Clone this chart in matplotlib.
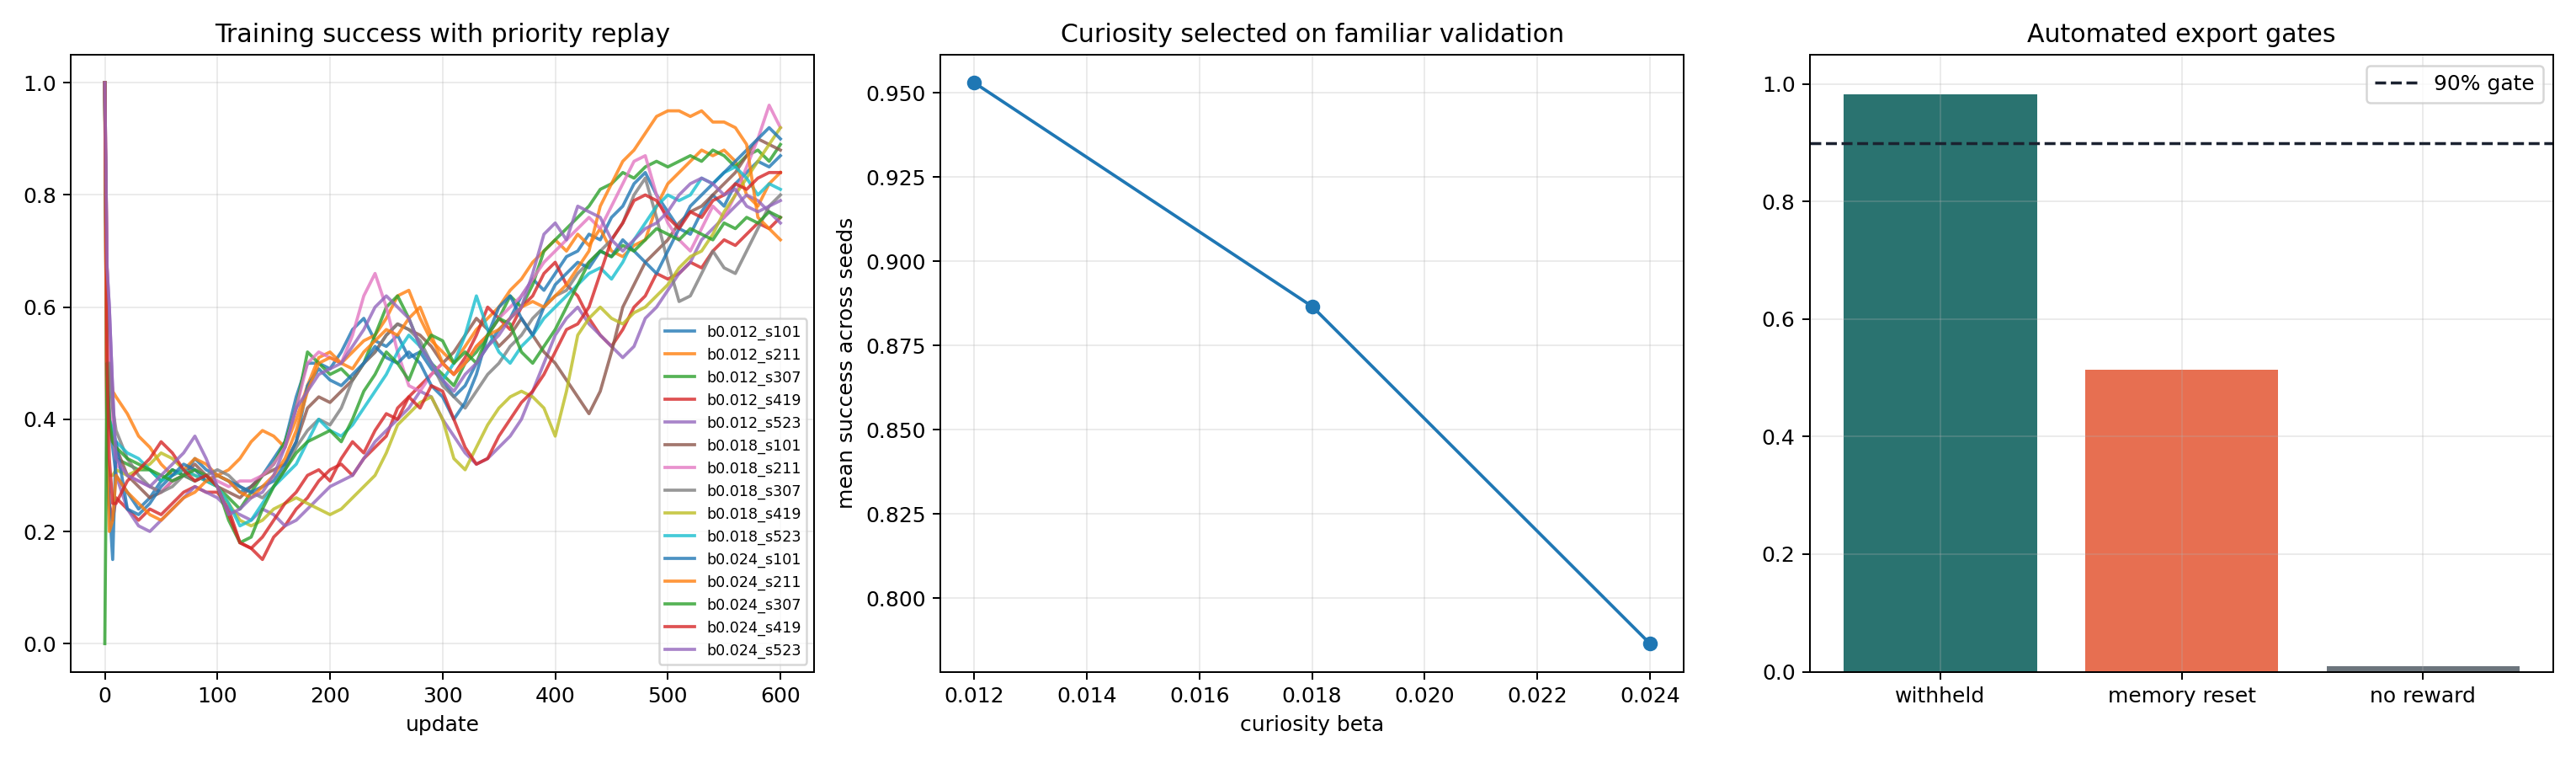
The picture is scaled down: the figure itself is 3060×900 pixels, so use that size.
import numpy as np
import matplotlib
matplotlib.use("Agg")
import matplotlib.pyplot as plt

# panel 1: running success per update (every 10 updates)
updates = [0, 2, 4, 7] + list(range(10, 601, 10))

run_names = ["b0.012_s101", "b0.012_s211", "b0.012_s307", "b0.012_s419", "b0.012_s523",
             "b0.018_s101", "b0.018_s211", "b0.018_s307", "b0.018_s419", "b0.018_s523",
             "b0.024_s101", "b0.024_s211", "b0.024_s307", "b0.024_s419", "b0.024_s523"]

b012_s101 = [1.0, 0.5, 0.4, 0.35,
             0.30, 0.27, 0.24, 0.26, 0.29, 0.31, 0.30, 0.33, 0.31, 0.30,
             0.29, 0.27, 0.28, 0.30, 0.33, 0.36, 0.44, 0.50, 0.50, 0.49,
             0.52, 0.56, 0.58, 0.54, 0.53, 0.55, 0.51, 0.52, 0.49, 0.47,
             0.44, 0.46, 0.50, 0.53, 0.56, 0.58, 0.62, 0.65, 0.63, 0.66,
             0.69, 0.70, 0.73, 0.72, 0.76, 0.78, 0.82, 0.84, 0.80, 0.77,
             0.74, 0.73, 0.77, 0.80, 0.78, 0.82, 0.84, 0.86, 0.85, 0.87]
b012_s211 = [1.0, 0.67, 0.5, 0.45,
             0.44, 0.41, 0.37, 0.35, 0.32, 0.30, 0.31, 0.33, 0.32, 0.30,
             0.31, 0.33, 0.36, 0.38, 0.37, 0.35, 0.40, 0.46, 0.51, 0.52,
             0.50, 0.52, 0.54, 0.55, 0.58, 0.62, 0.63, 0.58, 0.54, 0.52,
             0.50, 0.53, 0.56, 0.58, 0.60, 0.63, 0.65, 0.68, 0.70, 0.72,
             0.70, 0.73, 0.71, 0.74, 0.70, 0.69, 0.71, 0.72, 0.78, 0.82,
             0.84, 0.86, 0.88, 0.87, 0.88, 0.86, 0.80, 0.78, 0.82, 0.84]
b012_s307 = [1.0, 0.5, 0.4, 0.38,
             0.33, 0.32, 0.31, 0.31, 0.29, 0.31, 0.30, 0.29, 0.30, 0.28,
             0.26, 0.24, 0.27, 0.30, 0.32, 0.36, 0.42, 0.52, 0.50, 0.48,
             0.49, 0.47, 0.50, 0.55, 0.60, 0.62, 0.58, 0.53, 0.50, 0.48,
             0.46, 0.50, 0.52, 0.55, 0.58, 0.62, 0.60, 0.64, 0.70, 0.72,
             0.74, 0.76, 0.78, 0.81, 0.82, 0.84, 0.83, 0.85, 0.86, 0.85,
             0.86, 0.87, 0.86, 0.88, 0.87, 0.85, 0.87, 0.88, 0.86, 0.89]
b012_s419 = [1.0, 0.33, 0.25, 0.22,
             0.26, 0.24, 0.22, 0.24, 0.23, 0.25, 0.27, 0.28, 0.27, 0.27,
             0.24, 0.18, 0.17, 0.15, 0.19, 0.21, 0.24, 0.26, 0.29, 0.31,
             0.32, 0.30, 0.33, 0.35, 0.37, 0.42, 0.44, 0.46, 0.48, 0.50,
             0.48, 0.51, 0.55, 0.60, 0.58, 0.56, 0.60, 0.62, 0.66, 0.68,
             0.64, 0.62, 0.58, 0.55, 0.53, 0.56, 0.60, 0.62, 0.66, 0.65,
             0.66, 0.68, 0.67, 0.70, 0.72, 0.71, 0.73, 0.75, 0.74, 0.76]
b012_s523 = [1.0, 0.67, 0.6, 0.45,
             0.30, 0.24, 0.21, 0.20, 0.22, 0.24, 0.26, 0.28, 0.27, 0.26,
             0.24, 0.23, 0.22, 0.24, 0.23, 0.21, 0.22, 0.24, 0.26, 0.28,
             0.29, 0.30, 0.33, 0.36, 0.38, 0.40, 0.42, 0.45, 0.44, 0.40,
             0.37, 0.34, 0.32, 0.33, 0.35, 0.37, 0.40, 0.45, 0.50, 0.55,
             0.58, 0.60, 0.57, 0.55, 0.53, 0.51, 0.53, 0.58, 0.60, 0.63,
             0.66, 0.68, 0.72, 0.74, 0.76, 0.78, 0.80, 0.79, 0.77, 0.75]
b018_s101 = [1.0, 0.5, 0.4, 0.36,
             0.35, 0.30, 0.28, 0.26, 0.27, 0.29, 0.30, 0.32, 0.30, 0.28,
             0.27, 0.26, 0.28, 0.30, 0.31, 0.32, 0.36, 0.42, 0.44, 0.43,
             0.45, 0.47, 0.50, 0.52, 0.55, 0.57, 0.56, 0.55, 0.53, 0.50,
             0.52, 0.55, 0.58, 0.56, 0.53, 0.55, 0.58, 0.55, 0.52, 0.50,
             0.47, 0.44, 0.41, 0.45, 0.52, 0.60, 0.64, 0.68, 0.70, 0.72,
             0.75, 0.77, 0.78, 0.80, 0.82, 0.84, 0.87, 0.90, 0.89, 0.88]
b018_s211 = [1.0, 0.67, 0.5, 0.40,
             0.32, 0.30, 0.29, 0.28, 0.27, 0.29, 0.30, 0.31, 0.30, 0.29,
             0.28, 0.29, 0.29, 0.30, 0.32, 0.35, 0.42, 0.50, 0.52, 0.51,
             0.50, 0.55, 0.62, 0.66, 0.60, 0.52, 0.46, 0.45, 0.48, 0.50,
             0.48, 0.50, 0.53, 0.55, 0.58, 0.60, 0.62, 0.65, 0.68, 0.70,
             0.72, 0.74, 0.76, 0.74, 0.78, 0.82, 0.86, 0.87, 0.80, 0.75,
             0.72, 0.70, 0.74, 0.78, 0.76, 0.80, 0.85, 0.90, 0.96, 0.92]
b018_s307 = [1.0, 0.5, 0.5, 0.42,
             0.38, 0.33, 0.30, 0.28, 0.27, 0.28, 0.30, 0.29, 0.30, 0.31,
             0.30, 0.28, 0.27, 0.26, 0.28, 0.31, 0.35, 0.38, 0.40, 0.39,
             0.42, 0.47, 0.50, 0.52, 0.55, 0.57, 0.56, 0.54, 0.50, 0.46,
             0.44, 0.42, 0.45, 0.48, 0.50, 0.53, 0.55, 0.58, 0.60, 0.62,
             0.63, 0.66, 0.68, 0.70, 0.72, 0.75, 0.80, 0.83, 0.76, 0.68,
             0.61, 0.62, 0.66, 0.70, 0.67, 0.66, 0.70, 0.74, 0.78, 0.80]
b018_s419 = [1.0, 0.33, 0.3, 0.30,
             0.31, 0.30, 0.31, 0.32, 0.34, 0.33, 0.31, 0.30, 0.29, 0.28,
             0.25, 0.22, 0.21, 0.22, 0.24, 0.25, 0.26, 0.25, 0.24, 0.23,
             0.24, 0.26, 0.28, 0.30, 0.34, 0.39, 0.41, 0.43, 0.44, 0.40,
             0.33, 0.31, 0.35, 0.39, 0.42, 0.44, 0.45, 0.44, 0.42, 0.37,
             0.45, 0.55, 0.58, 0.60, 0.58, 0.57, 0.59, 0.60, 0.62, 0.64,
             0.67, 0.69, 0.70, 0.73, 0.77, 0.80, 0.83, 0.86, 0.89, 0.92]
b018_s523 = [1.0, 0.5, 0.4, 0.38,
             0.36, 0.34, 0.33, 0.31, 0.29, 0.30, 0.31, 0.30, 0.29, 0.28,
             0.25, 0.21, 0.22, 0.25, 0.28, 0.30, 0.32, 0.36, 0.40, 0.38,
             0.37, 0.39, 0.42, 0.45, 0.48, 0.52, 0.55, 0.53, 0.50, 0.47,
             0.50, 0.55, 0.62, 0.56, 0.52, 0.50, 0.53, 0.55, 0.58, 0.60,
             0.62, 0.64, 0.66, 0.67, 0.65, 0.68, 0.72, 0.75, 0.78, 0.80,
             0.79, 0.80, 0.83, 0.82, 0.84, 0.85, 0.83, 0.80, 0.82, 0.81]
b024_s101 = [1.0, 0.33, 0.25, 0.15,
             0.36, 0.24, 0.23, 0.25, 0.28, 0.30, 0.32, 0.31, 0.29, 0.30,
             0.29, 0.28, 0.27, 0.28, 0.29, 0.32, 0.36, 0.46, 0.49, 0.47,
             0.46, 0.48, 0.50, 0.53, 0.51, 0.50, 0.52, 0.50, 0.46, 0.44,
             0.40, 0.43, 0.48, 0.55, 0.60, 0.62, 0.58, 0.55, 0.60, 0.64,
             0.66, 0.68, 0.67, 0.70, 0.69, 0.72, 0.70, 0.68, 0.66, 0.70,
             0.74, 0.78, 0.80, 0.82, 0.84, 0.86, 0.88, 0.90, 0.92, 0.90]
b024_s211 = [1.0, 0.33, 0.2, 0.22,
             0.30, 0.27, 0.25, 0.23, 0.22, 0.24, 0.26, 0.27, 0.29, 0.30,
             0.29, 0.27, 0.26, 0.28, 0.30, 0.33, 0.38, 0.45, 0.50, 0.51,
             0.50, 0.49, 0.52, 0.54, 0.56, 0.55, 0.58, 0.60, 0.55, 0.50,
             0.48, 0.50, 0.53, 0.55, 0.56, 0.58, 0.60, 0.61, 0.60, 0.62,
             0.64, 0.67, 0.70, 0.78, 0.82, 0.86, 0.88, 0.91, 0.94, 0.95,
             0.95, 0.94, 0.95, 0.93, 0.93, 0.92, 0.89, 0.76, 0.74, 0.72]
b024_s307 = [0.0, 0.5, 0.4, 0.36,
             0.35, 0.33, 0.32, 0.31, 0.30, 0.29, 0.30, 0.31, 0.30, 0.28,
             0.22, 0.18, 0.19, 0.24, 0.28, 0.31, 0.34, 0.36, 0.37, 0.38,
             0.36, 0.40, 0.45, 0.48, 0.52, 0.50, 0.47, 0.52, 0.55, 0.54,
             0.50, 0.52, 0.50, 0.55, 0.58, 0.57, 0.52, 0.50, 0.53, 0.56,
             0.60, 0.64, 0.68, 0.70, 0.69, 0.71, 0.70, 0.72, 0.74, 0.73,
             0.72, 0.74, 0.73, 0.72, 0.75, 0.74, 0.76, 0.75, 0.77, 0.76]
b024_s419 = [1.0, 0.5, 0.33, 0.25,
             0.25, 0.29, 0.31, 0.33, 0.36, 0.34, 0.31, 0.29, 0.30, 0.28,
             0.23, 0.18, 0.17, 0.19, 0.22, 0.25, 0.27, 0.30, 0.31, 0.29,
             0.33, 0.36, 0.34, 0.38, 0.41, 0.40, 0.44, 0.42, 0.46, 0.45,
             0.40, 0.35, 0.32, 0.33, 0.37, 0.40, 0.43, 0.45, 0.48, 0.52,
             0.56, 0.57, 0.60, 0.66, 0.72, 0.75, 0.79, 0.80, 0.79, 0.76,
             0.74, 0.77, 0.76, 0.79, 0.80, 0.82, 0.81, 0.83, 0.84, 0.84]
b024_s523 = [1.0, 0.67, 0.6, 0.45,
             0.33, 0.30, 0.29, 0.28, 0.30, 0.32, 0.34, 0.37, 0.33, 0.28,
             0.23, 0.24, 0.26, 0.27, 0.30, 0.35, 0.42, 0.45, 0.48, 0.49,
             0.50, 0.53, 0.56, 0.60, 0.62, 0.60, 0.58, 0.53, 0.50, 0.47,
             0.45, 0.48, 0.50, 0.53, 0.55, 0.58, 0.60, 0.66, 0.73, 0.75,
             0.72, 0.78, 0.77, 0.76, 0.72, 0.70, 0.72, 0.74, 0.75, 0.77,
             0.80, 0.82, 0.83, 0.82, 0.80, 0.81, 0.78, 0.77, 0.78, 0.79]

runs = [b012_s101, b012_s211, b012_s307, b012_s419, b012_s523,
        b018_s101, b018_s211, b018_s307, b018_s419, b018_s523,
        b024_s101, b024_s211, b024_s307, b024_s419, b024_s523]

# panel 2
betas = [0.012, 0.018, 0.024]
mean_success = [0.953, 0.8866, 0.7865]

# panel 3
gates = ["withheld", "memory reset", "no reward"]
gate_values = [0.983, 0.514, 0.009]
gate_colors = ["#2a7370", "#e76f51", "#6c757d"]
gate_threshold = 0.9

fig, axes = plt.subplots(1, 3, figsize=(17, 5), dpi=180)

ax = axes[0]
for name, vals in zip(run_names, runs):
    ax.plot(updates, vals, lw=1.5, alpha=0.8, label=name)
ax.set_title("Training success with priority replay")
ax.set_xlabel("update")
ax.grid(alpha=0.25)
ax.legend(fontsize=7, loc="lower right")

ax = axes[1]
ax.plot(betas, mean_success, marker="o")
ax.set_title("Curiosity selected on familiar validation")
ax.set_xlabel("curiosity beta")
ax.set_ylabel("mean success across seeds")
ax.grid(alpha=0.25)

ax = axes[2]
ax.bar(gates, gate_values, color=gate_colors)
ax.axhline(gate_threshold, color="#1b2230", ls="--", lw=1.4, label="90% gate")
ax.set_ylim(0, 1.05)
ax.set_title("Automated export gates")
ax.grid(alpha=0.25)
ax.legend(loc="upper right")

fig.tight_layout()
fig.savefig("out.png", dpi=180)
